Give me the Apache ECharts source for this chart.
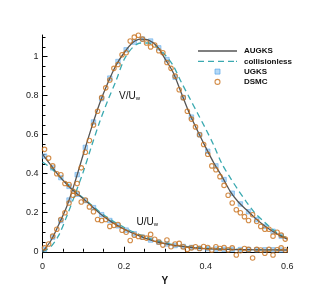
<!DOCTYPE html>
<html lang="en">
<head>
<meta charset="UTF-8">
<title>V/Uw and U/Uw profiles</title>
<script src="https://cdn.jsdelivr.net/npm/echarts@6/dist/echarts.min.js"></script>
<style>
  html, body { margin: 0; padding: 0; background: #fff; }
  #main { width: 327px; height: 291px; }
</style>
</head>
<body>
<div id="main"></div>
<script>
// AUGKS and collisionless curves
var curveY = [0, 0.02, 0.04, 0.06, 0.08, 0.1, 0.12, 0.14, 0.16, 0.18, 0.2, 0.22, 0.24, 0.26, 0.28, 0.3,
  0.32, 0.34, 0.36, 0.38, 0.4, 0.42, 0.44, 0.46, 0.48, 0.5, 0.52, 0.54, 0.56, 0.58, 0.6];
var augksV = [0, 0.055, 0.14, 0.235, 0.36, 0.5, 0.635, 0.76, 0.865, 0.955, 1.02, 1.07, 1.09, 1.085, 1.055, 0.99,
  0.92, 0.815, 0.71, 0.62, 0.535, 0.455, 0.385, 0.31, 0.255, 0.215, 0.175, 0.14, 0.11, 0.085, 0.065];
var augksU = [0.5, 0.445, 0.39, 0.345, 0.305, 0.272, 0.235, 0.198, 0.166, 0.139, 0.116, 0.096, 0.079, 0.064, 0.051, 0.042,
  0.034, 0.028, 0.023, 0.019, 0.016, 0.014, 0.013, 0.012, 0.011, 0.011, 0.01, 0.01, 0.01, 0.009, 0.009];
var freeV = [0, 0.025, 0.085, 0.185, 0.295, 0.41, 0.54, 0.665, 0.775, 0.875, 0.985, 1.045, 1.07, 1.07, 1.05, 1.01,
  0.955, 0.87, 0.79, 0.71, 0.63, 0.545, 0.45, 0.38, 0.315, 0.255, 0.2, 0.16, 0.122, 0.09, 0.07];
var freeU = [0.46, 0.43, 0.39, 0.35, 0.31, 0.275, 0.24, 0.205, 0.175, 0.148, 0.125, 0.104, 0.086, 0.07, 0.057, 0.046,
  0.037, 0.03, 0.025, 0.021, 0.018, 0.016, 0.014, 0.013, 0.012, 0.011, 0.011, 0.01, 0.01, 0.01, 0.01];

// UGKS samples
var ugksY = [0.005, 0.025, 0.045, 0.065, 0.085, 0.105, 0.125, 0.145, 0.165, 0.185, 0.205, 0.225, 0.245, 0.265, 0.285,
  0.305, 0.325, 0.345, 0.365, 0.385, 0.405, 0.425, 0.445, 0.465, 0.485, 0.505, 0.525, 0.545, 0.565, 0.585];
var ugksV = [0.012, 0.075, 0.16, 0.265, 0.395, 0.535, 0.665, 0.785, 0.89, 0.975, 1.035, 1.075, 1.09, 1.08, 1.045,
  0.985, 0.895, 0.79, 0.69, 0.6, 0.515, 0.44, 0.37, 0.3, 0.245, 0.205, 0.165, 0.13, 0.105, 0.08];
var ugksU = [0.49, 0.43, 0.38, 0.335, 0.295, 0.262, 0.226, 0.19, 0.16, 0.133, 0.111, 0.092, 0.075, 0.06, 0.049,
  0.04, 0.032, 0.027, 0.022, 0.018, 0.016, 0.014, 0.013, 0.012, 0.011, 0.011, 0.01, 0.01, 0.01, 0.009];

// DSMC samples
var dsmcY = [0.005, 0.015, 0.025, 0.035, 0.045, 0.055, 0.065, 0.075, 0.085, 0.095, 0.105, 0.115, 0.125, 0.135, 0.145,
  0.155, 0.165, 0.175, 0.185, 0.195, 0.205, 0.215, 0.225, 0.235, 0.245, 0.255, 0.265, 0.275, 0.285, 0.295,
  0.305, 0.315, 0.325, 0.335, 0.345, 0.355, 0.365, 0.375, 0.385, 0.395, 0.405, 0.415, 0.425, 0.435, 0.445,
  0.455, 0.465, 0.475, 0.485, 0.495, 0.505, 0.515, 0.525, 0.535, 0.545, 0.555, 0.565, 0.575, 0.585, 0.595];
var dsmcV = [0.02, 0.04, 0.08, 0.115, 0.165, 0.2, 0.25, 0.29, 0.35, 0.43, 0.51, 0.57, 0.65, 0.72, 0.79,
  0.84, 0.88, 0.94, 0.96, 1.01, 1.02, 1.08, 1.1, 1.11, 1.09, 1.07, 1.05, 1.06, 1.03, 1.02,
  0.97, 0.94, 0.9, 0.83, 0.79, 0.72, 0.68, 0.64, 0.6, 0.55, 0.5, 0.44, 0.42, 0.385, 0.34,
  0.29, 0.25, 0.215, 0.2, 0.18, 0.16, 0.19, 0.155, 0.13, 0.115, 0.115, 0.08, 0.1, 0.085, 0.065];
var dsmcU = [0.525, 0.48, 0.44, 0.4, 0.395, 0.35, 0.345, 0.31, 0.3, 0.255, 0.265, 0.23, 0.205, 0.165, 0.16,
  0.165, 0.13, 0.135, 0.14, 0.11, 0.1, 0.058, 0.085, 0.078, 0.074, 0.07, 0.089, 0.064, 0.05, 0.034,
  0.06, 0.026, 0.04, 0.043, 0.025, 0.012, 0.02, 0.026, 0.017, 0.027, 0.022, 0.009, 0.026, 0.017, 0.022,
  0.01, 0.02, -0.017, 0.005, 0.017, 0.012, -0.032, 0.012, 0.009, -0.008, 0.012, -0.017, 0.01, 0.02, 0.009];

var yMajor = [0, 0.2, 0.4, 0.6, 0.8, 1];
var yMinor = [0.05, 0.1, 0.15, 0.25, 0.3, 0.35, 0.45, 0.5, 0.55, 0.65, 0.7, 0.75, 0.85, 0.9, 0.95, 1.05, 1.1];

function pairs(xs, vs) {
  return xs.map(function (x, i) { return [x, vs[i]]; });
}

var chart = echarts.init(document.getElementById('main'));

var lineColor = '#555555';
var freeColor = '#3aa9b0';
var sqStyle = { color: 'rgba(140,195,242,0.8)', borderColor: '#4a9fe6', borderWidth: 0.6 };
var cirStyle = { color: 'rgba(255,255,255,0)', borderColor: '#c8701c', borderWidth: 1.1 };
var font = 'Liberation Sans, Arial, sans-serif';

// legend icons
var solidIcon = 'path://M0,0h39v1.4h-39z';
var dashIcon = 'path://M0,0h6v1.3h-6zM10,0h6v1.3h-6zM20,0h6v1.3h-6zM30,0h6v1.3h-6zM38,0h1v1.3h-1z';
var squareIcon = 'path://M0,0h5v5h-5z';

chart.setOption({
  animation: false,
  backgroundColor: '#fff',
  grid: { left: 42.5, right: 39.7, top: 35, bottom: 33, containLabel: false },
  legend: {
    left: 198, top: 46, orient: 'vertical', padding: 0,
    itemWidth: 39, itemHeight: 5, itemGap: 0.3,
    data: [
      { name: 'AUGKS', icon: solidIcon },
      { name: 'collisionless', icon: dashIcon },
      { name: 'UGKS', icon: squareIcon, itemStyle: { color: 'rgba(140,195,242,0.8)', borderColor: '#4a9fe6', borderWidth: 0.8 } },
      { name: 'DSMC', icon: 'circle', itemStyle: { color: 'rgba(255,255,255,0)', borderColor: '#c8701c', borderWidth: 1.1 } }
    ],
    textStyle: { fontFamily: font, fontSize: 8, fontWeight: 'bold', color: '#111', lineHeight: 10, padding: [0, 0, 0, 2] }
  },
  xAxis: {
    type: 'value', min: 0, max: 0.6, interval: 0.2,
    name: 'Y', nameLocation: 'middle', nameGap: 13,
    nameTextStyle: { fontFamily: font, fontSize: 10, fontWeight: 'bold', color: '#111' },
    axisLine: { show: true, lineStyle: { color: '#000', width: 1 } },
    axisTick: { show: true, inside: true, length: 5, lineStyle: { color: '#000' } },
    minorTick: { show: true, splitNumber: 4, length: 3, lineStyle: { color: '#000' } },
    axisLabel: { fontFamily: font, fontSize: 9, color: '#222', margin: 4,
      formatter: function (v) { return String(Math.round(v * 10) / 10); } },
    splitLine: { show: false }, minorSplitLine: { show: false }
  },
  yAxis: [{
    type: 'value', min: -0.032, max: 1.111,
    axisLine: { show: true, lineStyle: { color: '#000', width: 1 } },
    axisTick: { show: true, inside: true, length: 5, customValues: yMajor, lineStyle: { color: '#000' } },
    axisLabel: { fontFamily: font, fontSize: 9, color: '#222', margin: 4, customValues: yMajor,
      formatter: function (v) { return String(v); } },
    splitLine: { show: false }
  }, {
    type: 'value', min: -0.032, max: 1.111, position: 'left',
    axisLine: { show: false },
    axisTick: { show: true, inside: true, length: 3, customValues: yMinor, lineStyle: { color: '#000' } },
    axisLabel: { show: false },
    splitLine: { show: false }
  }],
  graphic: [
    { type: 'text', left: 119, top: 91, style: { rich: { a: { fontFamily: font, fontSize: 10, fill: '#111' }, b: { fontFamily: font, fontSize: 6, fill: '#111', verticalAlign: 'bottom', padding: [5, 0, 0, 0] } }, text: '{a|V/U}{b|w}' } },
    { type: 'text', left: 136.5, top: 217, style: { rich: { a: { fontFamily: font, fontSize: 10, fill: '#111' }, b: { fontFamily: font, fontSize: 6, fill: '#111', verticalAlign: 'bottom', padding: [5, 0, 0, 0] } }, text: '{a|U/U}{b|w}' } }
  ],
  series: [
    { name: 'UGKS', type: 'scatter', symbol: 'rect', symbolSize: 4.5, z: 2, itemStyle: sqStyle, data: pairs(ugksY, ugksV) },
    { name: 'UGKS', type: 'scatter', symbol: 'rect', symbolSize: 4.5, z: 2, itemStyle: sqStyle, data: pairs(ugksY, ugksU) },
    { name: 'collisionless', type: 'line', symbol: 'none', smooth: 0.3, z: 3, color: freeColor,
      lineStyle: { color: freeColor, width: 1.3, type: [6, 4] }, data: pairs(curveY, freeV) },
    { name: 'collisionless', type: 'line', symbol: 'none', smooth: 0.3, z: 3, color: freeColor,
      lineStyle: { color: freeColor, width: 1.3, type: [6, 4] }, data: pairs(curveY, freeU) },
    { name: 'AUGKS', type: 'line', symbol: 'none', smooth: 0.3, z: 4, color: lineColor,
      lineStyle: { color: lineColor, width: 1.3 }, data: pairs(curveY, augksV) },
    { name: 'AUGKS', type: 'line', symbol: 'none', smooth: 0.3, z: 4, color: lineColor,
      lineStyle: { color: lineColor, width: 1.3 }, data: pairs(curveY, augksU) },
    { name: 'DSMC', type: 'scatter', symbol: 'circle', symbolSize: 4.5, z: 5, itemStyle: cirStyle, data: pairs(dsmcY, dsmcV) },
    { name: 'DSMC', type: 'scatter', symbol: 'circle', symbolSize: 4.5, z: 5, itemStyle: cirStyle, data: pairs(dsmcY, dsmcU) }
  ]
});
</script>
</body>
</html>
